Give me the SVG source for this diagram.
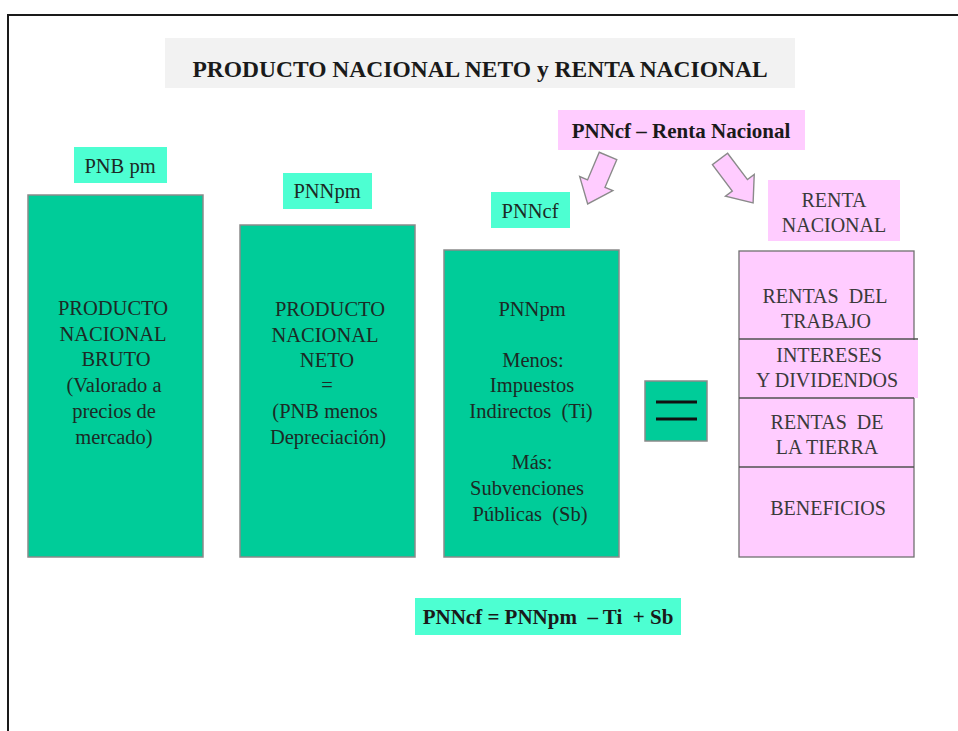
<svg xmlns="http://www.w3.org/2000/svg" width="958" height="731" viewBox="0 0 958 731">
<style>
  text { font-family: "Liberation Serif", "Times New Roman", serif; text-anchor: middle; white-space: pre; }
  .t { font-size: 20.5px; fill: #1c2a25; }
  .tp { font-size: 20px; fill: #3a3a3a; }
  .b { font-size: 21px; font-weight: bold; fill: #1a1a1a; }
  .big { fill: #00cc99; stroke: #8a8a8a; stroke-width: 1.5; }
  .lab { fill: #4dffd2; }
  .pink { fill: #ffccff; }
  .pinkbox { fill: #ffccff; stroke: #707070; stroke-width: 1.3; }
  .arrow { fill: #ffccff; stroke: #8a8a8a; stroke-width: 1.4; stroke-linejoin: miter; }
</style>
<rect x="0" y="0" width="958" height="731" fill="#ffffff"/>
<path d="M8 731 V15 H958" fill="none" stroke="#1a1a1a" stroke-width="2"/>

<g id="title">
  <rect x="165" y="38" width="630" height="50" fill="#f2f2f2"/>
  <text x="480" y="77" class="b" style="font-size:23.5px">PRODUCTO NACIONAL NETO y RENTA NACIONAL</text>
</g>

<g id="renta-label">
  <rect x="558" y="110" width="247" height="40" class="pink"/>
  <text x="681" y="138" class="b">PNNcf – Renta Nacional</text>
</g>

<g id="pnbpm-label">
  <rect x="74" y="147" width="93" height="36" class="lab"/>
  <text x="120" y="173" class="t">PNB pm</text>
</g>

<g id="pnnpm-label">
  <rect x="283" y="173" width="89" height="36" class="lab"/>
  <text x="327" y="198" class="t">PNNpm</text>
</g>

<g id="pnncf-label">
  <rect x="491" y="192" width="79" height="36" class="lab"/>
  <text x="530" y="218" class="t">PNNcf</text>
</g>

<g id="renta-nacional-label">
  <rect x="768" y="180" width="132" height="61" class="pink"/>
  <text x="834" y="207" class="tp">RENTA</text>
  <text x="834" y="232" class="tp">NACIONAL</text>
</g>

<g id="pnb-box">
  <rect x="28" y="195" width="175" height="362" class="big"/>
  <text x="113" y="315" class="t">PRODUCTO</text>
  <text x="113" y="341" class="t">NACIONAL</text>
  <text x="116" y="366" class="t">BRUTO</text>
  <text x="114" y="392" class="t">(Valorado a</text>
  <text x="114" y="418" class="t">precios de</text>
  <text x="114" y="444" class="t">mercado)</text>
</g>

<g id="pnn-box">
  <rect x="240" y="225" width="175" height="332" class="big"/>
  <text x="330" y="316" class="t">PRODUCTO</text>
  <text x="325" y="342" class="t">NACIONAL</text>
  <text x="327" y="367" class="t">NETO</text>
  <text x="327" y="392" class="t">=</text>
  <text x="325" y="418" class="t">(PNB menos</text>
  <text x="328" y="444" class="t">Depreciación)</text>
</g>

<g id="pnncf-box">
  <rect x="444" y="250" width="175" height="307" class="big"/>
  <text x="532" y="316" class="t">PNNpm</text>
  <text x="533" y="367" class="t">Menos:</text>
  <text x="532" y="392" class="t">Impuestos</text>
  <text x="531" y="418" class="t">Indirectos  (Ti)</text>
  <text x="532" y="469" class="t">Más:</text>
  <text x="527" y="495" class="t">Subvenciones</text>
  <text x="530" y="521" class="t">Públicas  (Sb)</text>
</g>

<g id="equals-box">
  <rect x="645" y="381" width="62" height="60" class="big"/>
  <line x1="656" y1="402" x2="697" y2="402" stroke="#111" stroke-width="3"/>
  <line x1="656" y1="419" x2="697" y2="419" stroke="#111" stroke-width="3"/>
</g>

<g id="renta-stack">
  <rect x="739" y="251" width="175" height="306" class="pinkbox"/>
  <rect x="740" y="340" width="178" height="58" class="pink"/>
  <line x1="739" y1="339" x2="918" y2="339" stroke="#505050" stroke-width="1.3"/>
  <line x1="739" y1="398" x2="914" y2="398" stroke="#505050" stroke-width="1.3"/>
  <line x1="739" y1="467" x2="914" y2="467" stroke="#505050" stroke-width="1.3"/>
  <text x="825" y="303" class="tp">RENTAS  DEL</text>
  <text x="826" y="328" class="tp">TRABAJO</text>
  <text x="829" y="362" class="tp">INTERESES</text>
  <text x="827" y="387" class="tp">Y DIVIDENDOS</text>
  <text x="827" y="429" class="tp">RENTAS  DE</text>
  <text x="827" y="454" class="tp">LA TIERRA</text>
  <text x="828" y="515" class="tp">BENEFICIOS</text>
</g>

<g id="equation">
  <rect x="415" y="598" width="266" height="37" class="lab"/>
  <text x="548" y="624" class="b">PNNcf = PNNpm  – Ti  + Sb</text>
</g>

<g id="connectors">
  <polygon class="arrow" transform="translate(608,156) rotate(113)" points="0,-9.5 30,-9.5 30,-18 52,0 30,18 30,9.5 0,9.5"/>
  <polygon class="arrow" transform="translate(720,159) rotate(53)" points="0,-9.5 33,-9.5 33,-18 55,0 33,18 33,9.5 0,9.5"/>
</g>
</svg>
